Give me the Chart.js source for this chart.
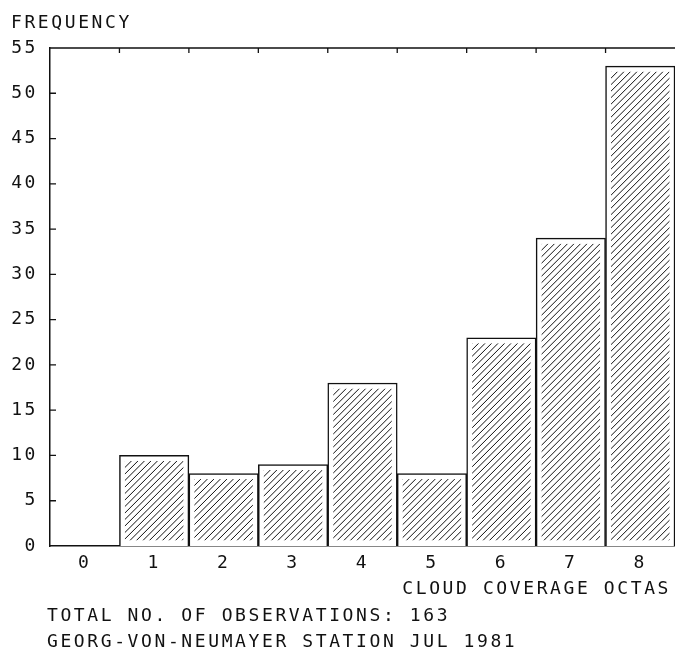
<!DOCTYPE html>
<html>
<head>
<meta charset="utf-8">
<script src="https://cdn.jsdelivr.net/npm/chart.js@4"></script>
<style>
  html, body { margin: 0; padding: 0; background: #fff; }
  #wrap { width: 675px; height: 654px; }
</style>
</head>
<body>
<div id="wrap"><canvas id="cloudChart" width="675" height="654"></canvas></div>
<script>
// Cloud coverage histogram, Georg-von-Neumayer station, July 1981

const octas = ['0', '1', '2', '3', '4', '5', '6', '7', '8'];
const frequency = [0, 10, 8, 9, 18, 8, 23, 34, 53];
const yMax = 55;
const yStep = 5;

const yLabel = 'FREQUENCY';
const xLabel = 'CLOUD COVERAGE OCTAS';
const footerLines = [
    'TOTAL NO. OF OBSERVATIONS: 163',
    'GEORG-VON-NEUMAYER STATION JUL 1981'
];

const ink = '#111';
const fontFamily = "'DejaVu Sans Mono', monospace";
const fontSize = 18;
const spacing = '2.6px';

// plotter-style wide lettering
function setSpacing(chart) {
    chart.ctx.letterSpacing = spacing;
}

// hatching inside each bar + frame ticks + free text
const plotterPlugin = {
    id: 'plotter',
    beforeUpdate: setSpacing,
    beforeDraw: setSpacing,
    afterDatasetsDraw(chart) {
        const ctx = chart.ctx;
        const meta = chart.getDatasetMeta(0);
        const inset = 5.5;
        const gap = 6.5;
        ctx.save();
        ctx.strokeStyle = ink;
        ctx.lineWidth = 1;
        meta.data.forEach(bar => {
            const p = bar.getProps(['x', 'y', 'base', 'width'], true);
            const left = p.x - p.width / 2 + inset;
            const right = p.x + p.width / 2 - inset;
            const top = p.y + inset;
            const bottom = p.base - inset;
            if (bottom - top <= 0) return;
            ctx.save();
            ctx.beginPath();
            ctx.rect(left, top, right - left, bottom - top);
            ctx.clip();
            ctx.beginPath();
            const h = bottom - top;
            for (let x0 = left - h; x0 < right + gap; x0 += gap) {
                ctx.moveTo(x0, bottom);
                ctx.lineTo(x0 + h, top);
            }
            ctx.stroke();
            ctx.restore();
        });
        ctx.restore();
    },
    afterDraw(chart) {
        const ctx = chart.ctx;
        const area = chart.chartArea;
        const xScale = chart.scales.x;
        const yScale = chart.scales.y;
        ctx.save();
        ctx.strokeStyle = ink;
        ctx.lineWidth = 1.3;
        ctx.beginPath();
        // top frame line
        ctx.moveTo(area.left, area.top);
        ctx.lineTo(area.right, area.top);
        // top ticks at category boundaries
        for (let i = 1; i < octas.length; i++) {
            const bx = (xScale.getPixelForValue(i - 1) + xScale.getPixelForValue(i)) / 2;
            ctx.moveTo(bx, area.top);
            ctx.lineTo(bx, area.top + 5);
        }
        // inward ticks on the left axis
        for (let v = yStep; v < yMax; v += yStep) {
            const py = yScale.getPixelForValue(v);
            ctx.moveTo(area.left, py);
            ctx.lineTo(area.left + 6, py);
        }
        ctx.stroke();

        ctx.fillStyle = ink;
        ctx.font = fontSize + 'px ' + fontFamily;
        ctx.letterSpacing = spacing;
        ctx.textBaseline = 'alphabetic';
        ctx.textAlign = 'left';
        ctx.fillText(yLabel, 11, 28);
        ctx.textAlign = 'right';
        ctx.fillText(xLabel, 671, 594);
        ctx.textAlign = 'left';
        footerLines.forEach((line, i) => {
            ctx.fillText(line, 47, 621 + i * 26);
        });
        ctx.restore();
    }
};

new Chart(document.getElementById('cloudChart'), {
    type: 'bar',
    data: {
        labels: octas,
        datasets: [{
            data: frequency,
            backgroundColor: '#fff',
            borderColor: ink,
            borderWidth: 1.5,
            barPercentage: 1,
            categoryPercentage: 1
        }]
    },
    options: {
        responsive: false,
        animation: false,
        devicePixelRatio: 1,
        layout: { padding: { top: 48, right: 0, left: 0, bottom: 0 } },
        plugins: {
            legend: { display: false },
            tooltip: { enabled: false }
        },
        scales: {
            x: {
                grid: { display: false, drawTicks: false },
                border: { display: true, color: ink, width: 1.5 },
                ticks: {
                    color: ink,
                    font: { family: fontFamily, size: fontSize },
                    padding: 7,
                    maxRotation: 0
                },
                afterFit: s => { s.height = 108; }
            },
            y: {
                min: 0,
                max: yMax,
                grid: { display: false, drawTicks: false },
                border: { display: true, color: ink, width: 1.5 },
                ticks: {
                    stepSize: yStep,
                    color: ink,
                    font: { family: fontFamily, size: fontSize },
                    padding: 12
                },
                afterFit: s => { s.width = 50; }
            }
        }
    },
    plugins: [plotterPlugin]
});
</script>
</body>
</html>
